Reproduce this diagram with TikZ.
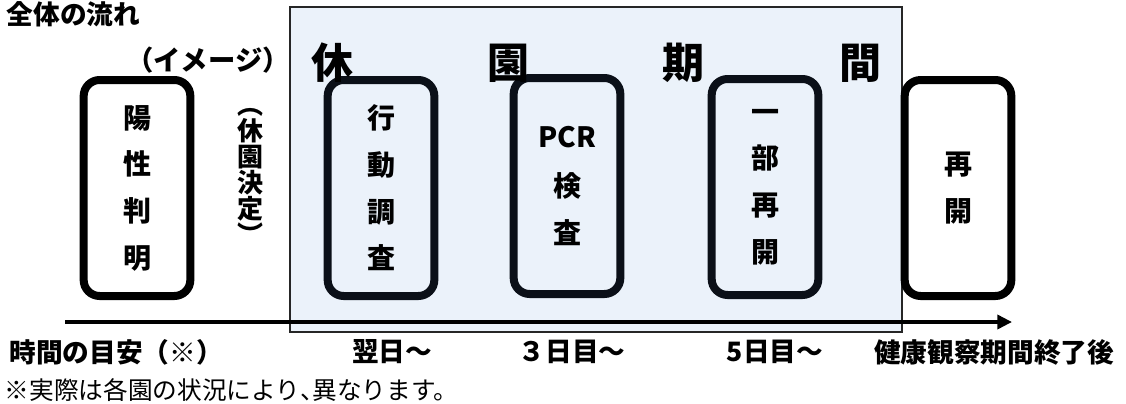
\documentclass[tikz,border=0pt]{standalone}
\usepackage{fontspec}
\newfontfamily\jp{Noto Sans CJK JP}
\usetikzlibrary{arrows.meta}
\definecolor{periodblue}{HTML}{EBF2FA}
\definecolor{inkdark}{HTML}{0B1018}

\begin{document}
\begin{tikzpicture}[x=0.75pt, y=-0.75pt,
    stagebox/.style={draw, line width=6pt, rounded corners=12pt, minimum width=80pt, minimum height=162pt, align=center, font=\jp\bfseries\fontsize{21pt}{35pt}\selectfont},
    periodbox/.style={draw=black!85, line width=1.5pt, fill=periodblue, inner sep=0pt},
    titlechar/.style={font=\jp\bfseries\fontsize{31.5pt}{31.5pt}\selectfont},
    timelabel/.style={font=\jp\bfseries\fontsize{20pt}{20pt}\selectfont}]
      \useasboundingbox (0,0) rectangle (1126,403);

      % Background
      \node[periodbox, minimum width=459pt, minimum height=243.75pt] (period) at (596,169.5) {};

      % Nodes
      \node[stagebox, fill=white] (positive) at (137,188) {陽\\性\\判\\明};
      \node[stagebox, draw=inkdark] (survey) at (381,188) {行\\動\\調\\査};
      \node[stagebox, draw=inkdark] (pcrtest) at (567,186) {PCR\\[2pt]検\\査};
      \node[stagebox, draw=inkdark] (partreopen) at (765,187) {一\\部\\再\\開};
      \node[stagebox, fill=white] (reopen) at (958,188) {再\\開};

      \node[titlechar] (kyu) at (332,63) {休};
      \node[titlechar] (en) at (508,63) {園};
      \node[titlechar] (ki) at (683,63) {期};
      \node[titlechar] (kan) at (860,63) {間};

      % Connections
      \coordinate (timestart) at (65,322);
      \coordinate (timeend) at (1012,322);
      \draw[line width=2.6pt, -{Triangle[length=11pt, width=10.5pt]}] (timestart) -- (timeend);

      % Annotations
      \node[anchor=west, font=\jp\bfseries\fontsize{20pt}{20pt}\selectfont] (overall) at (2,14) {全体の流れ};
      \node[font=\jp\bfseries\fontsize{20.5pt}{20.5pt}\selectfont] (image) at (208,60) {（イメージ）};
      \node[align=center, font=\jp\bfseries\fontsize{19.5pt}{19.5pt}\selectfont] (decision) at (250,176) {︵\\休\\園\\決\\定\\︶};

      \node[timelabel] (timeguide) at (116,352) {時間の目安（※）};
      \node[timelabel] (nextday) at (392,352) {翌日〜};
      \node[timelabel] (daythree) at (572,352) {３日目〜};
      \node[timelabel] (dayfive) at (775,352) {5日目〜};
      \node[timelabel] (afterwatch) at (994,352) {健康観察期間終了後};
      \node[anchor=west, font=\jp\fontsize{18.5pt}{18.5pt}\selectfont] (footnote) at (0,390) {※実際は各園の状況により\makebox[0.5em][l]{、}異なります。};
    \end{tikzpicture}
\end{document}
